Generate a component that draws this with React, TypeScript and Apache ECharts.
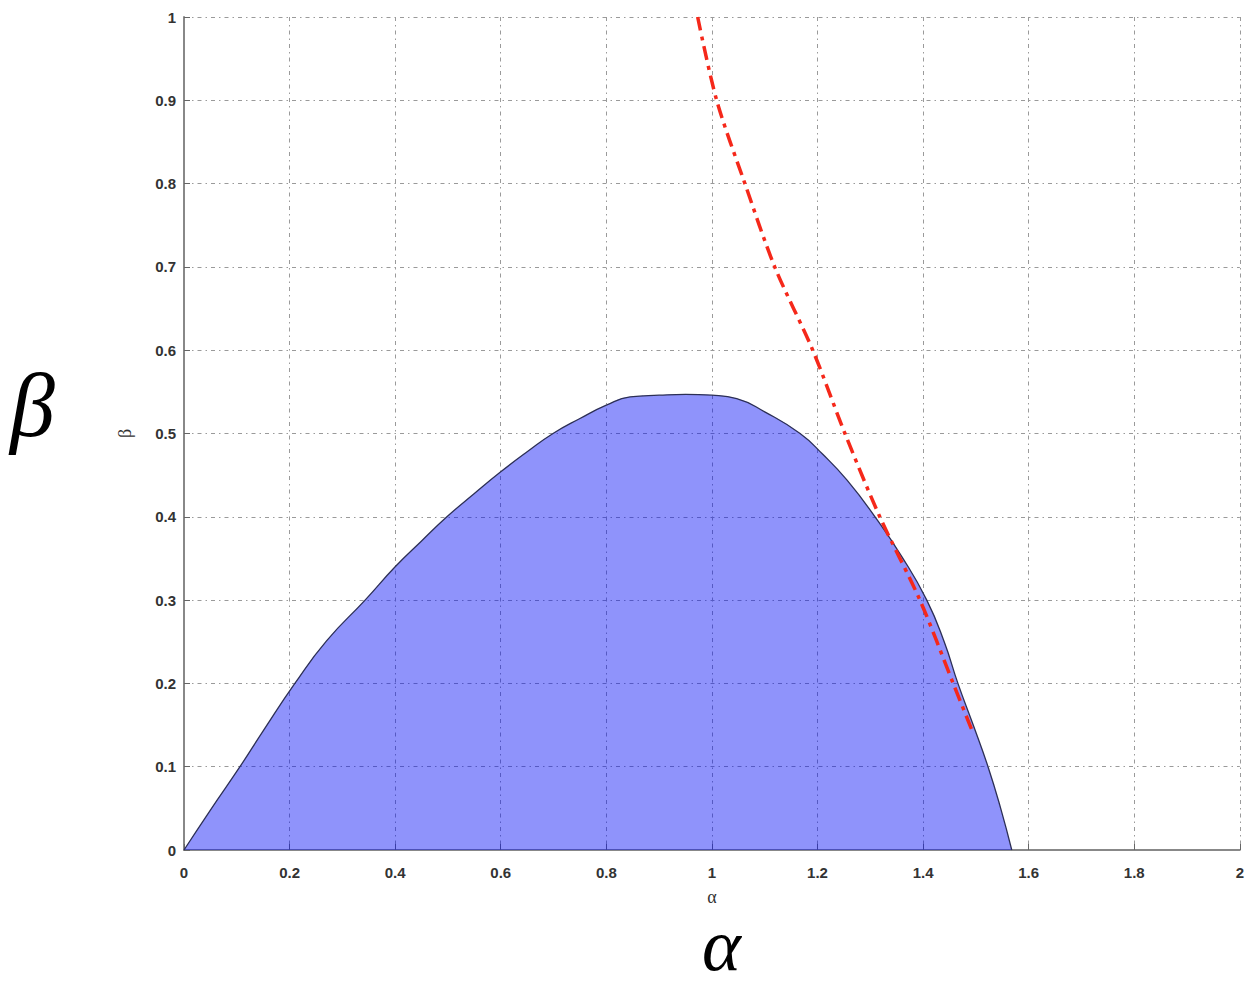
import React, { useEffect, useRef } from "react";
import * as echarts from "echarts";

const regionAlpha = [0, 0.05, 0.106, 0.15, 0.21, 0.27, 0.343, 0.4, 0.45, 0.498, 0.55, 0.6, 0.65, 0.699, 0.75, 0.8, 0.845, 0.9, 0.95, 1.0, 1.047, 1.1, 1.167, 1.21, 1.256, 1.309, 1.36, 1.407, 1.44, 1.466, 1.495, 1.523, 1.547, 1.568];
const regionBeta = [0, 0.048, 0.1, 0.143, 0.2, 0.251, 0.3, 0.34, 0.371, 0.4, 0.428, 0.454, 0.478, 0.5, 0.518, 0.534, 0.544, 0.546, 0.547, 0.546, 0.542, 0.526, 0.5, 0.475, 0.444, 0.4, 0.352, 0.3, 0.25, 0.2, 0.15, 0.1, 0.05, 0];

const boundAlpha = [0.973, 1.009, 1.0625, 1.119, 1.191, 1.252, 1.318, 1.394, 1.457, 1.495];
const boundBeta = [1.0, 0.9, 0.8, 0.7, 0.6, 0.5, 0.4, 0.3, 0.2, 0.14];

const xTicks = ["0", "0.2", "0.4", "0.6", "0.8", "1", "1.2", "1.4", "1.6", "1.8", "2"];
const yTicks = ["0", "0.1", "0.2", "0.3", "0.4", "0.5", "0.6", "0.7", "0.8", "0.9", "1"];

const serif = "'Liberation Serif', 'DejaVu Serif', serif";

export default function App() {
  const ref = useRef<HTMLDivElement>(null);
  useEffect(() => {
    document.body.style.margin = "0";
    const chart = echarts.init(ref.current!, null, { renderer: "svg" });
    const gridLine = { show: true, lineStyle: { color: "#9a9a9a", width: 1, type: [4, 4, 1.5, 4] as any } };
    const labelStyle = { color: "#333", fontSize: 15, fontWeight: "bold" as any, fontFamily: "'Liberation Sans', Arial, sans-serif" };
    chart.setOption({
      animation: false,
      backgroundColor: "#ffffff",
      grid: { left: 184, right: 7, top: 17, bottom: 140, containLabel: false },
      xAxis: {
        type: "value",
        min: 0,
        max: 2,
        interval: 0.2,
        name: "α",
        nameLocation: "middle",
        nameGap: 38,
        nameTextStyle: { color: "#333", fontSize: 18, fontFamily: serif },
        axisLine: { show: true, onZero: false, lineStyle: { color: "#888", width: 2 } },
        axisTick: { show: true, inside: true, length: 6, lineStyle: { color: "#666" } },
        axisLabel: { ...labelStyle, margin: 15, formatter: (v: number) => xTicks[Math.round(v / 0.2)] ?? "" },
        splitLine: gridLine,
      },
      yAxis: {
        type: "value",
        min: 0,
        max: 1,
        interval: 0.1,
        name: "β",
        nameLocation: "middle",
        nameGap: 50,
        nameRotate: 90,
        nameTextStyle: { color: "#333", fontSize: 18, fontFamily: serif },
        axisLine: { show: true, onZero: false, lineStyle: { color: "#888", width: 2 } },
        axisTick: { show: true, inside: true, length: 6, lineStyle: { color: "#666" } },
        axisLabel: { ...labelStyle, margin: 8, formatter: (v: number) => yTicks[Math.round(v / 0.1)] ?? "" },
        splitLine: gridLine,
      },
      series: [
        {
          type: "line",
          data: regionAlpha.map((a, i) => [a, regionBeta[i]]),
          showSymbol: false,
          smooth: 0.5,
          lineStyle: { color: "#2c2f55", width: 1.3 },
          areaStyle: { color: "rgba(0,10,245,0.44)", opacity: 1, origin: "start" },
          z: 3,
        },
        {
          type: "line",
          data: boundAlpha.map((a, i) => [a, boundBeta[i]]),
          showSymbol: false,
          smooth: 0.3,
          lineStyle: { color: "#f5281a", width: 3.5, type: [14, 6, 4, 6] as any },
          z: 4,
        },
      ],
      graphic: [
        {
          type: "text",
          x: 10,
          y: 360,
          style: { text: "β", fontSize: 90, fontStyle: "italic", fontFamily: serif, fill: "#000" },
        },
        {
          type: "text",
          x: 702,
          y: 908,
          style: { text: "α", fontSize: 74, fontStyle: "italic", fontFamily: serif, fill: "#000" },
        },
      ],
    });
    return () => chart.dispose();
  }, []);
  return <div ref={ref} style={{ position: "absolute", left: 0, top: 0, width: 1247, height: 990 }} />;
}
